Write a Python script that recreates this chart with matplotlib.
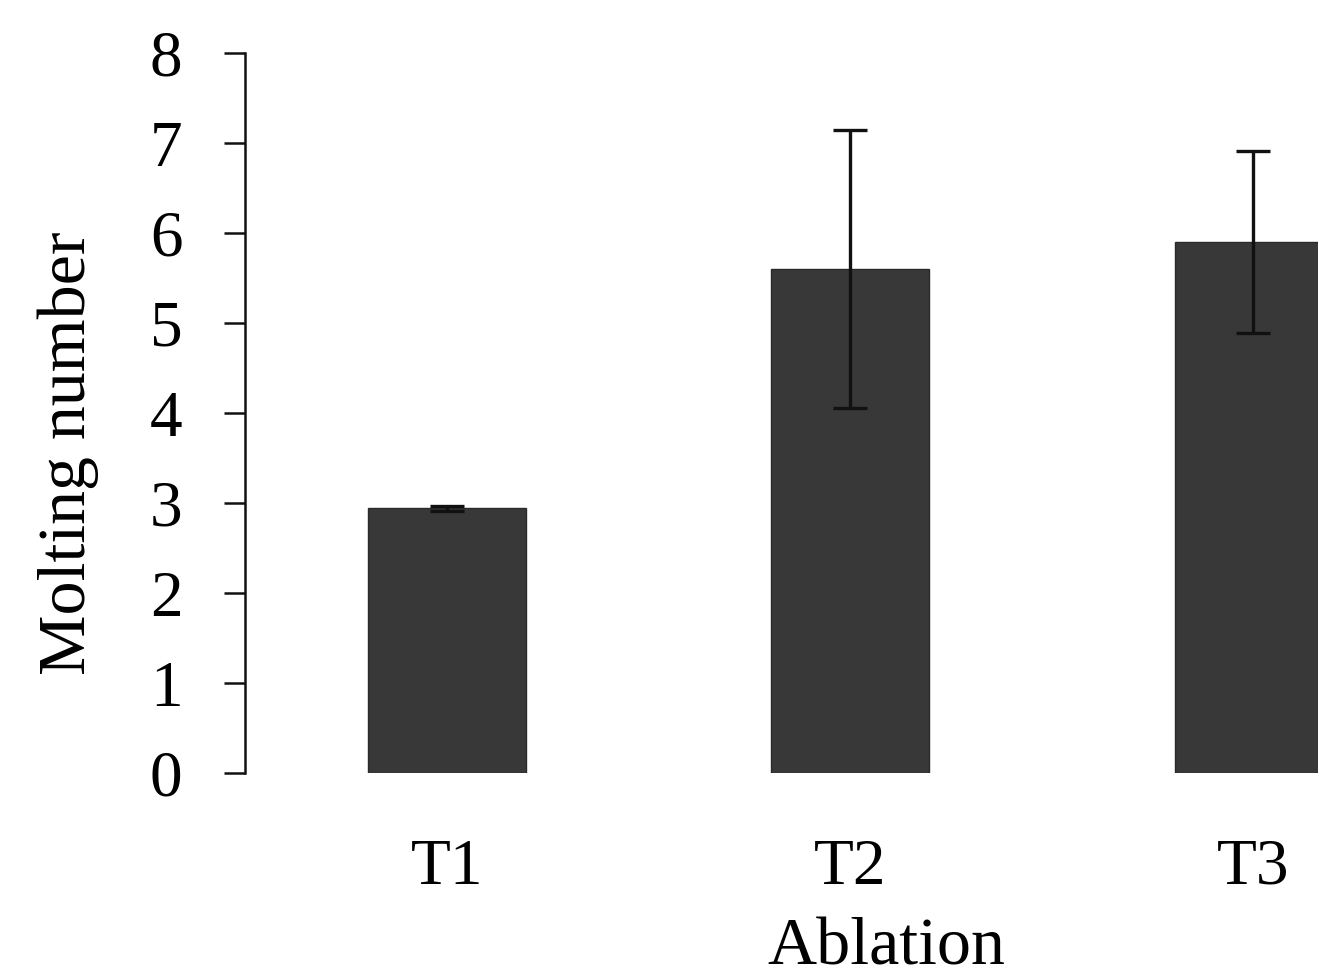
import matplotlib
matplotlib.use("Agg")
import matplotlib.pyplot as plt

categories = ["T1", "T2", "T3"]
means = [2.94, 5.60, 5.90]
errors = [0.03, 1.54, 1.01]
yticks = [0, 1, 2, 3, 4, 5, 6, 7, 8]

plt.rcParams['font.family'] = ['Liberation Serif', 'DejaVu Serif']

W, H = 1318, 977
fig = plt.figure(figsize=(W / 100, H / 100), dpi=100)
left, right, bottom, top = 245, 1318, 773, 53
ax = fig.add_axes([left / W, (H - bottom) / H, (right - left) / W, (bottom - top) / H])

x = list(range(len(categories)))
ax.bar(x, means, width=0.39, color='#383838', edgecolor='#2a2a2a', linewidth=1, zorder=2)
ax.errorbar(x, means, yerr=errors, fmt='none', ecolor='#111111', elinewidth=2.4,
            capsize=12, capthick=2.4, zorder=3)

ax.set_xlim(-0.501, 2.161)
ax.set_ylim(0, 8)
ax.set_yticks(yticks)
ax.set_yticklabels([str(v) for v in yticks], fontsize=47)
ax.set_xticks(x)
ax.set_xticklabels(categories, fontsize=47)
ax.tick_params(axis='y', length=15, width=1.8, pad=30, color='#111111')
ax.tick_params(axis='x', length=0, pad=47)

for s in ['top', 'right', 'bottom']:
    ax.spines[s].set_visible(False)
ax.spines['left'].set_linewidth(1.8)
ax.spines['left'].set_color('#111111')

ax.set_ylabel("Molting number", fontsize=49)
ax.yaxis.set_label_coords((68 - left) / (right - left), (bottom - 453) / (bottom - top))
ax.yaxis.label.set_verticalalignment('center')
ax.set_xlabel("Ablation", fontsize=49)
ax.xaxis.set_label_coords((886 - left) / (right - left), -(948 - bottom) / (bottom - top))
ax.xaxis.label.set_verticalalignment('center')

fig.savefig("out.png", dpi=100)
